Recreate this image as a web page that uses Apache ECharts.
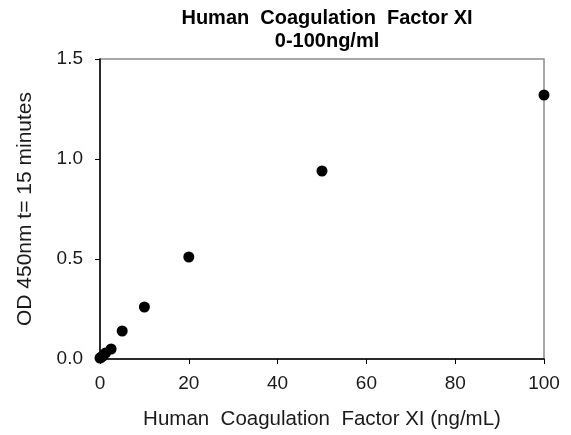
<!DOCTYPE html>
<html><head><meta charset="utf-8">
<script src="https://cdn.jsdelivr.net/npm/echarts@6/dist/echarts.min.js"></script>
<style>html,body{margin:0;padding:0;background:#fff}#c{width:571px;height:435px}</style>
</head><body><div id="c"></div>
<script>
const concentrations = [0, 0.3125, 0.625, 1.25, 2.5, 5, 10, 20, 50, 100];
const odValues = [0.005, 0.01, 0.015, 0.03, 0.05, 0.14, 0.26, 0.51, 0.94, 1.32];
const titleLines = ['Human  Coagulation  Factor XI', '0-100ng/ml'];
const xAxisName = 'Human  Coagulation  Factor XI (ng/mL)';
const yAxisName = 'OD 450nm t= 15 minutes';

const chart = echarts.init(document.getElementById('c'), null, {renderer: 'canvas'});
const font = '"Liberation Sans", Arial, sans-serif';
chart.setOption({
  animation: false,
  backgroundColor: '#fff',
  title: {
    text: titleLines.join('\n'),
    left: 322, top: 2, textAlign: 'center',
    textStyle: {fontFamily: font, fontSize: 20, fontWeight: 'bold', color: '#000', lineHeight: 23}
  },
  grid: {left: 100, right: 27, top: 59, bottom: 76, show: true, borderColor: '#8c8c8c', borderWidth: 1.5},
  xAxis: {
    type: 'value', min: 0, max: 100, interval: 20,
    name: xAxisName, nameLocation: 'middle', nameGap: 50,
    nameTextStyle: {fontFamily: font, fontSize: 20.5, color: '#1a1a1a'},
    axisLine: {show: true, onZero: false, lineStyle: {color: '#000', width: 1.5}},
    axisTick: {show: true, length: 5, lineStyle: {color: '#000'}},
    axisLabel: {fontFamily: font, fontSize: 19, color: '#1a1a1a', margin: 15},
    splitLine: {show: false}
  },
  yAxis: {
    type: 'value', min: 0, max: 1.5, interval: 0.5,
    name: yAxisName, nameLocation: 'middle', nameGap: 64, nameRotate: 90,
    nameTextStyle: {fontFamily: font, fontSize: 21, color: '#1a1a1a'},
    axisLine: {show: true, onZero: false, lineStyle: {color: '#000', width: 1.5}},
    axisTick: {show: true, length: 5, lineStyle: {color: '#000'}},
    axisLabel: {fontFamily: font, fontSize: 19, color: '#1a1a1a', margin: 17,
      formatter: v => v.toFixed(1)},
    splitLine: {show: false}
  },
  series: [{
    type: 'scatter',
    data: concentrations.map((x, i) => [x, odValues[i]]),
    symbol: 'circle', symbolSize: 11,
    itemStyle: {color: '#000', opacity: 1}
  }]
});
</script></body></html>
